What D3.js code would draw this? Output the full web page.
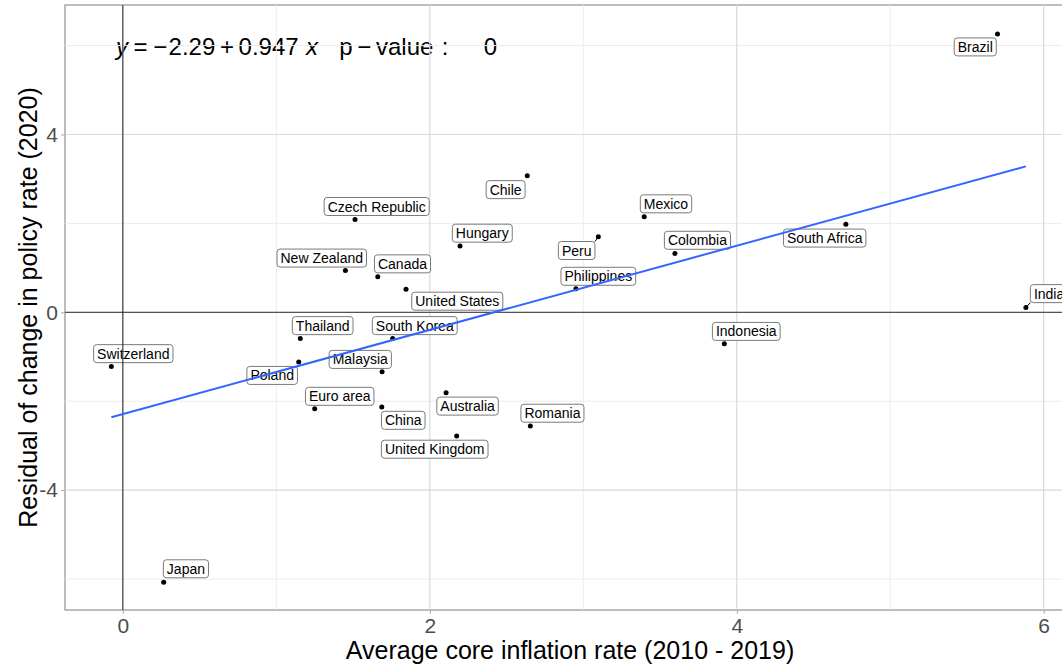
<!DOCTYPE html>
<html><head><meta charset="utf-8">
<script src="https://cdn.jsdelivr.net/npm/d3@7"></script>
<style>body{margin:0;background:#fff} text{font-family:"Liberation Sans",Arial,Helvetica,sans-serif}</style>
</head><body><svg id="c" width="1062" height="666"></svg>
<script>
// ---- data ----
const countries = ["Brazil","Chile","Czech Republic","Hungary","New Zealand","Canada","United States","Peru","Philippines","Mexico","Colombia","South Africa","India","Indonesia","Switzerland","Thailand","South Korea","Poland","Malaysia","Euro area","China","Australia","United Kingdom","Romania","Japan"];
const inflation = [5.699,2.635,1.513,2.197,1.450,1.661,1.845,3.098,2.952,3.397,3.597,4.711,5.884,3.919,-0.075,1.156,1.758,1.146,1.689,1.250,1.687,2.106,2.175,2.655,0.266];
const residual  = [6.26,3.07,2.09,1.49,0.94,0.80,0.52,1.70,0.53,2.15,1.32,1.98,0.11,-0.71,-1.22,-0.59,-0.59,-1.12,-1.34,-2.17,-2.13,-1.81,-2.78,-2.56,-6.07];
// repelled label anchors (data units)
const labelX = [5.554,2.494,1.654,2.342,1.296,1.822,2.179,2.957,3.098,3.539,3.744,4.573,6.035,4.062,0.068,1.302,1.902,0.973,1.547,1.413,1.827,2.246,2.032,2.799,0.411];
const labelY = [5.97,2.76,2.38,1.78,1.22,1.09,0.25,1.39,0.81,2.44,1.62,1.67,0.42,-0.43,-0.93,-0.30,-0.30,-1.42,-1.06,-1.89,-2.43,-2.11,-3.08,-2.27,-5.77];
const segmentLabels = ["Peru","India"];
const xMajor = [0,2,4,6], xMinor = [1,3,5];
const yMajor = [-4,0,4], yMinor = [-6,-2,2,6];
const yTickLabels = ["-4","0","4"];
const intercept = -2.29, slope = 0.947;
const xTitle = "Average core inflation rate (2010 - 2019)";
const yTitle = "Residual of change in policy rate (2020)";
const eqTokens = ["y","=","\u2212","2.29","+","0.947","x","p","\u2212","value",":","0"];
const eqItalic = [true,false,false,false,false,false,true,false,false,false,false,false];
const eqGapAfter = [0.6,0.6,0.15,0.5,0.5,0.8,2.3,0.5,0.5,0.9,3.8];

// ---- layout ----
const svg = d3.select("#c");
const L = 65, R = 1075, T = 5, B = 610;
const x = d3.scaleLinear().domain([-0.377, 6.204]).range([L, R]);
const y = d3.scaleLinear().domain([-6.697, 6.913]).range([B, T]);

svg.append("rect").attr("width",1062).attr("height",666).attr("fill","#fff");
const g = svg.append("g");

// grid
g.selectAll(".xmin").data(xMinor).join("line").attr("x1",d=>x(d)).attr("x2",d=>x(d)).attr("y1",T).attr("y2",B).attr("stroke","#ececec").attr("stroke-width",1);
g.selectAll(".ymin").data(yMinor).join("line").attr("y1",d=>y(d)).attr("y2",d=>y(d)).attr("x1",L).attr("x2",R).attr("stroke","#ececec").attr("stroke-width",1);
g.selectAll(".xmaj").data(xMajor).join("line").attr("x1",d=>x(d)).attr("x2",d=>x(d)).attr("y1",T).attr("y2",B).attr("stroke","#d9d9d9").attr("stroke-width",1.2);
g.selectAll(".ymaj").data(yMajor).join("line").attr("y1",d=>y(d)).attr("y2",d=>y(d)).attr("x1",L).attr("x2",R).attr("stroke","#d9d9d9").attr("stroke-width",1.2);

// axes
const xAxis = d3.axisBottom(x).tickValues(xMajor).tickSize(4).tickPadding(4).tickFormat(d3.format("d"));
const gx = svg.append("g").attr("transform",`translate(0,${B})`).call(xAxis);
gx.select(".domain").remove();
gx.selectAll("line").attr("stroke","#aaa");
gx.selectAll("text").attr("font-size",21).attr("fill","#4d4d4d").attr("font-family","Liberation Sans, Arial, sans-serif");
const yAxis = d3.axisLeft(y).tickValues(yMajor).tickSize(4).tickPadding(3).tickFormat((d,i)=>yTickLabels[i]);
const gy = svg.append("g").attr("transform",`translate(${L},0)`).call(yAxis);
gy.select(".domain").remove();
gy.selectAll("line").attr("stroke","#aaa");
gy.selectAll("text").attr("font-size",21).attr("fill","#4d4d4d").attr("font-family","Liberation Sans, Arial, sans-serif");

// panel border
svg.append("rect").attr("x",L).attr("y",T).attr("width",R-L).attr("height",B-T).attr("fill","none").attr("stroke","#9a9a9a").attr("stroke-width",1.3);

// labels
const data = countries.map((c,i)=>({c, px:x(inflation[i]), py:y(residual[i]), lx:x(labelX[i]), ly:y(labelY[i])}));
const lg = g.append("g");
data.forEach(d=>{
  const grp = lg.append("g");
  const txt = grp.append("text").attr("x",d.lx).attr("y",d.ly+5).attr("text-anchor","middle").attr("font-size",14).attr("fill","#000").text(d.c);
  const w = txt.node().getComputedTextLength() + 7, h = 18;
  d.box = {x0:d.lx-w/2, x1:d.lx+w/2, y0:d.ly-h/2, y1:d.ly+h/2};
  grp.insert("rect","text").attr("x",d.box.x0).attr("y",d.box.y0).attr("width",w).attr("height",h).attr("rx",3).attr("fill","#fff").attr("stroke","#7a7a7a").attr("stroke-width",1);
});
// segments
data.filter(d=>segmentLabels.includes(d.c)).forEach(d=>{
  const ex = Math.max(d.box.x0, Math.min(d.px, d.box.x1));
  const ey = Math.max(d.box.y0, Math.min(d.py, d.box.y1));
  g.append("line").attr("x1",d.px).attr("y1",d.py).attr("x2",ex).attr("y2",ey).attr("stroke","#000").attr("stroke-width",1);
});
// points
g.selectAll(".pt").data(data).join("circle").attr("cx",d=>d.px).attr("cy",d=>d.py).attr("r",2.5).attr("fill","#000");

// zero lines
g.append("line").attr("x1",L).attr("x2",R).attr("y1",y(0)).attr("y2",y(0)).attr("stroke","#333").attr("stroke-width",1);

// equation (flow layout)
const eqStart = 116, eqEnd = 497, eqSize = 24;
const eq = svg.append("g");
const nodes = eqTokens.map((t,i)=> eq.append("text").attr("y",55).attr("font-size",eqSize).attr("fill","#000")
    .attr("font-style",eqItalic[i]?"italic":"normal").text(t));
const widths = nodes.map(n=>n.node().getComputedTextLength());
const sumW = d3.sum(widths), sumG = d3.sum(eqGapAfter);
const unit = (eqEnd - eqStart - sumW) / sumG;
let cx = eqStart;
nodes.forEach((n,i)=>{ n.attr("x",cx); cx += widths[i] + (i<eqGapAfter.length ? eqGapAfter[i]*unit : 0); });

g.raise();
g.append("line").attr("x1",x(0)).attr("x2",x(0)).attr("y1",T).attr("y2",B).attr("stroke","#222").attr("stroke-width",1);

// regression line
const xr = d3.extent(inflation);
const line = d3.line().x(d=>x(d)).y(d=>y(intercept+slope*d));
g.append("path").attr("d",line(xr)).attr("stroke","#3366FF").attr("stroke-width",2).attr("fill","none");

// titles
svg.append("text").attr("x",(L+R)/2).attr("y",659).attr("text-anchor","middle").attr("font-size",25).attr("fill","#000").text(xTitle);
svg.append("text").attr("transform",`translate(37,${(T+B)/2}) rotate(-90)`).attr("text-anchor","middle").attr("font-size",25).attr("fill","#000").text(yTitle);
</script></body></html>
